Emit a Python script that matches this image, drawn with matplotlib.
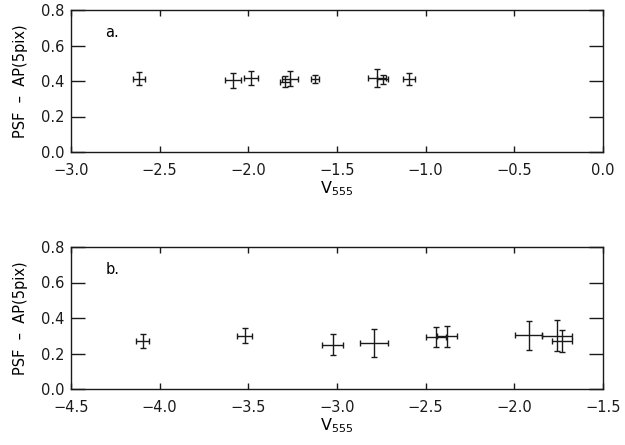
import matplotlib
matplotlib.use("Agg")
import matplotlib.pyplot as plt

# Panel a: V555 magnitudes vs PSF - aperture(5 pix) offsets
a_v = [-2.617, -2.085, -1.985, -1.794, -1.765, -1.624, -1.276, -1.242, -1.094]
a_d = [0.414, 0.403, 0.416, 0.397, 0.412, 0.410, 0.416, 0.410, 0.412]
a_verr = [0.032, 0.044, 0.039, 0.030, 0.044, 0.024, 0.051, 0.030, 0.033]
a_derr = [0.034, 0.044, 0.041, 0.031, 0.042, 0.023, 0.052, 0.026, 0.033]

# Panel b
b_v = [-4.096, -3.521, -3.024, -2.791, -2.441, -2.381, -1.919, -1.761, -1.729]
b_d = [0.269, 0.301, 0.250, 0.258, 0.293, 0.297, 0.303, 0.301, 0.271]
b_verr = [0.038, 0.042, 0.059, 0.078, 0.055, 0.056, 0.075, 0.085, 0.056]
b_derr = [0.039, 0.041, 0.061, 0.078, 0.057, 0.058, 0.082, 0.085, 0.064]

a_xticks = [-3.0, -2.5, -2.0, -1.5, -1.0, -0.5, 0.0]
b_xticks = [-4.5, -4.0, -3.5, -3.0, -2.5, -2.0, -1.5]
yticks = [0.0, 0.2, 0.4, 0.6, 0.8]

plt.rcParams['font.family'] = ['DejaVu Sans']
plt.rcParams['font.size'] = 10.5

W, H = 625, 445
fig = plt.figure(figsize=(W / 100, H / 100), dpi=100)

def px_axes(left, top, right, bottom):
    return fig.add_axes([left / W, 1 - bottom / H, (right - left) / W, (bottom - top) / H])

ax_a = px_axes(71, 10, 603, 152)
ax_b = px_axes(71, 247, 603, 389)

panels = [
    (ax_a, a_v, a_d, a_verr, a_derr, a_xticks, "a."),
    (ax_b, b_v, b_d, b_verr, b_derr, b_xticks, "b."),
]

for ax, v, d, ve, de, xt, tag in panels:
    ax.errorbar(v, d, xerr=ve, yerr=de, fmt='none', ecolor='#1a1a1a',
                elinewidth=1.0, capsize=2.0, capthick=1.0)
    ax.set_xlim(xt[0], xt[-1])
    ax.set_ylim(0.0, 0.8)
    ax.set_xticks(xt)
    ax.set_xticklabels([f"{t:.1f}".replace("-", "\u2212") for t in xt])
    ax.set_yticks(yticks)
    ax.set_yticklabels([f"{t:.1f}" for t in yticks])
    ax.tick_params(axis='x', direction='in', length=4, width=1.0, top=True,
                   pad=8, colors='#1a1a1a')
    ax.tick_params(axis='y', direction='in', length=10, width=1.0, right=True,
                   pad=5, colors='#1a1a1a')
    for s in ax.spines.values():
        s.set_linewidth(1.0)
        s.set_color('#1a1a1a')
    ax.set_xlabel("V$_{555}$", fontsize=11.5, labelpad=1)
    ax.set_ylabel("PSF  \u2013  AP(5pix)", labelpad=9)
    ax.text(0.065, 0.845, tag, transform=ax.transAxes, ha='left', va='center')

fig.savefig("out.png", dpi=100, facecolor='white')
